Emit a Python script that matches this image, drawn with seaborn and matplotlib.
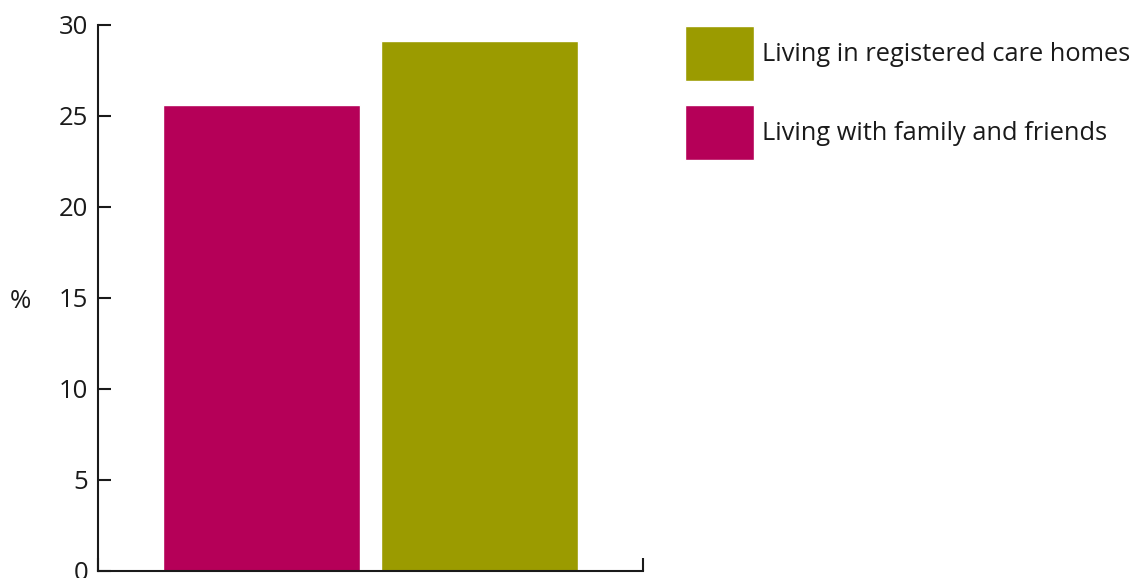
import matplotlib
matplotlib.use("Agg")
import matplotlib.pyplot as plt
import seaborn as sns
import pandas as pd

# Share of people in each living arrangement (%)
groups = ["Living with family and friends", "Living in registered care homes"]
values = [25.6, 29.1]
colors = ["#B50058", "#9B9B00"]
y_ticks = [0, 5, 10, 15, 20, 25, 30]

df = pd.DataFrame({"cat": [""] * len(groups), "group": groups, "value": values})

sns.set_theme(style="white")
plt.rcParams["font.family"] = ["Open Sans", "DejaVu Sans"]

fig = plt.figure(figsize=(11.41, 5.78), dpi=100)
ax = fig.add_axes([98 / 1141, 1 - 570.7 / 578, 545 / 1141, 545.7 / 578])

sns.barplot(data=df, x="cat", y="value", hue="group", hue_order=groups,
            palette=colors, width=0.8, gap=0.1, saturation=1, ax=ax, legend=True)

ax.set_xlim(-0.5, 0.5)
ax.set_ylim(0, 30)
ax.set_yticks(y_ticks)
ax.set_yticklabels([str(t) for t in y_ticks])
ax.set_xticks([-0.5, 0.5])
ax.set_xticklabels(["", ""])
ax.set_xlabel("")

for side in ("top", "right"):
    ax.spines[side].set_visible(False)
for side in ("left", "bottom"):
    ax.spines[side].set_linewidth(1.5)
    ax.spines[side].set_color("#1a1a1a")

ax.tick_params(axis="y", left=True, direction="in", length=9, width=1.5, color="#1a1a1a",
               labelsize=18.5, pad=7, labelcolor="#1a1a1a")
ax.tick_params(axis="x", bottom=True, direction="in", length=9.5, width=1.5, color="#1a1a1a")

ax.set_ylabel("%", rotation=0, fontsize=18.5, color="#1a1a1a", va="center", ha="center")
ax.yaxis.set_label_coords((20.5 - 98) / 545, (570.7 - 302) / 545.7)

handles, labels = ax.get_legend_handles_labels()
ax.legend(handles[::-1], labels[::-1], loc="upper left",
          bbox_to_anchor=(685 / 1141, 1 - 26 / 578), bbox_transform=fig.transFigure,
          frameon=False, fontsize=18.3, borderpad=0, borderaxespad=0,
          handlelength=2.71, handleheight=2.95, handletextpad=0.3,
          labelspacing=0.96, labelcolor="#1a1a1a", title=None)

fig.savefig("out.png", dpi=100)
